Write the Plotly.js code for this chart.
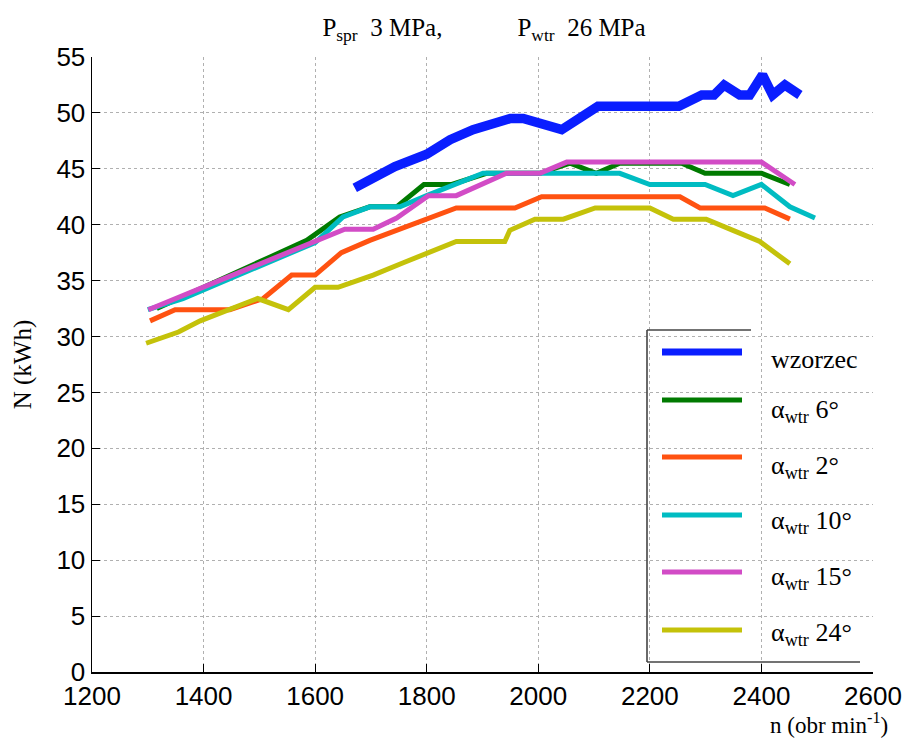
<!DOCTYPE html>
<html>
<head>
<meta charset="utf-8">
<script src="https://cdn.plot.ly/plotly-3.0.1.min.js"></script>
<style>html,body{margin:0;padding:0;background:#fff;}#chart{width:906px;height:738px;}</style>
</head>
<body>
<div id="chart"></div>
<script>
// ---- data ----
const wzorzecX = [1671, 1743, 1800, 1842, 1883, 1950, 1973, 2042, 2107, 2252, 2293, 2315, 2333, 2361, 2379, 2402, 2420, 2442, 2469];
const wzorzecY = [43.3, 45.2, 46.3, 47.6, 48.5, 49.5, 49.5, 48.5, 50.6, 50.6, 51.6, 51.6, 52.5, 51.6, 51.6, 53.4, 51.6, 52.5, 51.6];

const a6X = [1316, 1585, 1644, 1698, 1746, 1795, 1845, 1907, 2003, 2057, 2104, 2146, 2257, 2299, 2400, 2451];
const a6Y = [32.5, 38.6, 40.7, 41.6, 41.6, 43.6, 43.6, 44.6, 44.6, 45.5, 44.6, 45.5, 45.5, 44.6, 44.6, 43.6];

const a2X = [1304, 1349, 1447, 1507, 1558, 1600, 1647, 1698, 1853, 1958, 2006, 2254, 2290, 2406, 2451];
const a2Y = [31.4, 32.4, 32.4, 33.4, 35.5, 35.5, 37.5, 38.6, 41.5, 41.5, 42.5, 42.5, 41.5, 41.5, 40.5];

const a10X = [1300, 1363, 1600, 1650, 1698, 1752, 1800, 1901, 2146, 2200, 2299, 2349, 2400, 2451, 2496];
const a10Y = [32.4, 33.4, 38.4, 40.7, 41.6, 41.6, 42.6, 44.6, 44.6, 43.6, 43.6, 42.6, 43.6, 41.6, 40.6];

const a15X = [1301, 1653, 1704, 1746, 1803, 1853, 1943, 2003, 2051, 2400, 2460];
const a15Y = [32.4, 39.6, 39.6, 40.6, 42.6, 42.6, 44.6, 44.6, 45.6, 45.6, 43.6];

const a24X = [1297, 1355, 1394, 1447, 1497, 1552, 1600, 1641, 1704, 1758, 1853, 1940, 1949, 1994, 2045, 2102, 2200, 2242, 2301, 2349, 2397, 2451];
const a24Y = [29.4, 30.4, 31.4, 32.4, 33.4, 32.4, 34.4, 34.4, 35.5, 36.6, 38.5, 38.5, 39.5, 40.5, 40.5, 41.5, 41.5, 40.5, 40.5, 39.5, 38.5, 36.5];

const seriesNames = ["wzorzec", "α<sub>wtr</sub> 6°", "α<sub>wtr</sub> 2°", "α<sub>wtr</sub> 10°", "α<sub>wtr</sub> 15°", "α<sub>wtr</sub> 24°"];
const seriesColors = ["#0a1eff", "#007a00", "#ff5211", "#00bcc2", "#d24cc6", "#c4c20a"];
const seriesWidths = [9.5, 5, 5, 5, 5, 5];
const xTicks = [1200, 1400, 1600, 1800, 2000, 2200, 2400, 2600];
const yTicks = [0, 5, 10, 15, 20, 25, 30, 35, 40, 45, 50, 55];

const xs = [wzorzecX, a6X, a2X, a10X, a15X, a24X];
const ys = [wzorzecY, a6Y, a2Y, a10Y, a15Y, a24Y];

const traces = xs.map((x, i) => ({
  type: 'scatter', mode: 'lines', x: x, y: ys[i], name: seriesNames[i],
  line: {color: seriesColors[i], width: seriesWidths[i], shape: 'linear'},
  showlegend: false, hoverinfo: 'skip'
}));

// ---- manual legend (paper coords) ----
const L = 92, T = 57, W = 781, H = 615;
const px = X => (X - L) / W;
const py = Y => (T + H - Y) / H;
const legLineY = [352, 400, 457, 515, 572, 630];
const legTextY = [359, 411, 467, 522, 578, 634];
const shapes = [
  {type: 'line', xref: 'paper', yref: 'paper', x0: px(647), x1: px(647), y0: py(330), y1: py(662), line: {color: '#444', width: 1.6}},
  {type: 'line', xref: 'paper', yref: 'paper', x0: px(647), x1: px(751), y0: py(330), y1: py(330), line: {color: '#444', width: 1.6}},
  {type: 'line', xref: 'paper', yref: 'paper', x0: px(647), x1: px(860), y0: py(662), y1: py(662), line: {color: '#444', width: 1.6}}
];
const annotations = [];
seriesNames.forEach((n, i) => {
  shapes.push({type: 'line', xref: 'paper', yref: 'paper', x0: px(662), x1: px(742), y0: py(legLineY[i]), y1: py(legLineY[i]),
    line: {color: seriesColors[i], width: i === 0 ? 7 : 5}});
  annotations.push({xref: 'paper', yref: 'paper', x: px(769), y: py(legTextY[i]), xanchor: 'left', yanchor: 'middle',
    text: n, showarrow: false, font: {family: 'Liberation Serif, Times New Roman, serif', size: 26, color: '#000'}});
});
annotations.push({xref: 'paper', yref: 'paper', x: px(829), y: py(723), xanchor: 'center', yanchor: 'middle',
  text: 'n (obr min<sup>-1</sup>)', showarrow: false, font: {family: 'Liberation Serif, Times New Roman, serif', size: 23, color: '#000'}});

const layout = {
  width: 906, height: 738,
  margin: {l: L, r: 906 - L - W, t: T, b: 738 - T - H},
  paper_bgcolor: '#fff', plot_bgcolor: '#fff',
  title: {text: 'P<sub>spr</sub>\u00a0\u00a03 MPa,\u00a0\u00a0\u00a0\u00a0\u00a0\u00a0\u00a0\u00a0\u00a0\u00a0\u00a0\u00a0P<sub>wtr</sub>\u00a0\u00a026 MPa',
    x: 484 / 906, xanchor: 'center', y: 1 - 27 / 738, yanchor: 'middle',
    font: {family: 'Liberation Serif, Times New Roman, serif', size: 25, color: '#000'}},
  xaxis: {range: [1200, 2600], tickvals: xTicks, ticktext: xTicks.map(String), showgrid: true, gridcolor: '#b0b0b0', griddash: 'dot', gridwidth: 1,
    showline: true, linecolor: '#000', linewidth: 1.5, ticks: 'inside', ticklen: 8, tickcolor: '#000', mirror: false, zeroline: false,
    tickfont: {family: 'Liberation Sans, Arial, sans-serif', size: 26, color: '#000'}},
  yaxis: {range: [0, 55], tickvals: yTicks, ticktext: yTicks.map(String), showgrid: true, gridcolor: '#b0b0b0', griddash: 'dot', gridwidth: 1,
    showline: true, linecolor: '#000', linewidth: 1.5, ticks: 'inside', ticklen: 8, tickcolor: '#000', mirror: false, zeroline: false,
    tickfont: {family: 'Liberation Sans, Arial, sans-serif', size: 26, color: '#000'},
    title: {text: 'N (kWh)', standoff: 17, font: {family: 'Liberation Serif, Times New Roman, serif', size: 25, color: '#000'}}},
  shapes: shapes, annotations: annotations, showlegend: false
};
Plotly.newPlot('chart', traces, layout, {staticPlot: true, displayModeBar: false});
</script>
</body>
</html>
